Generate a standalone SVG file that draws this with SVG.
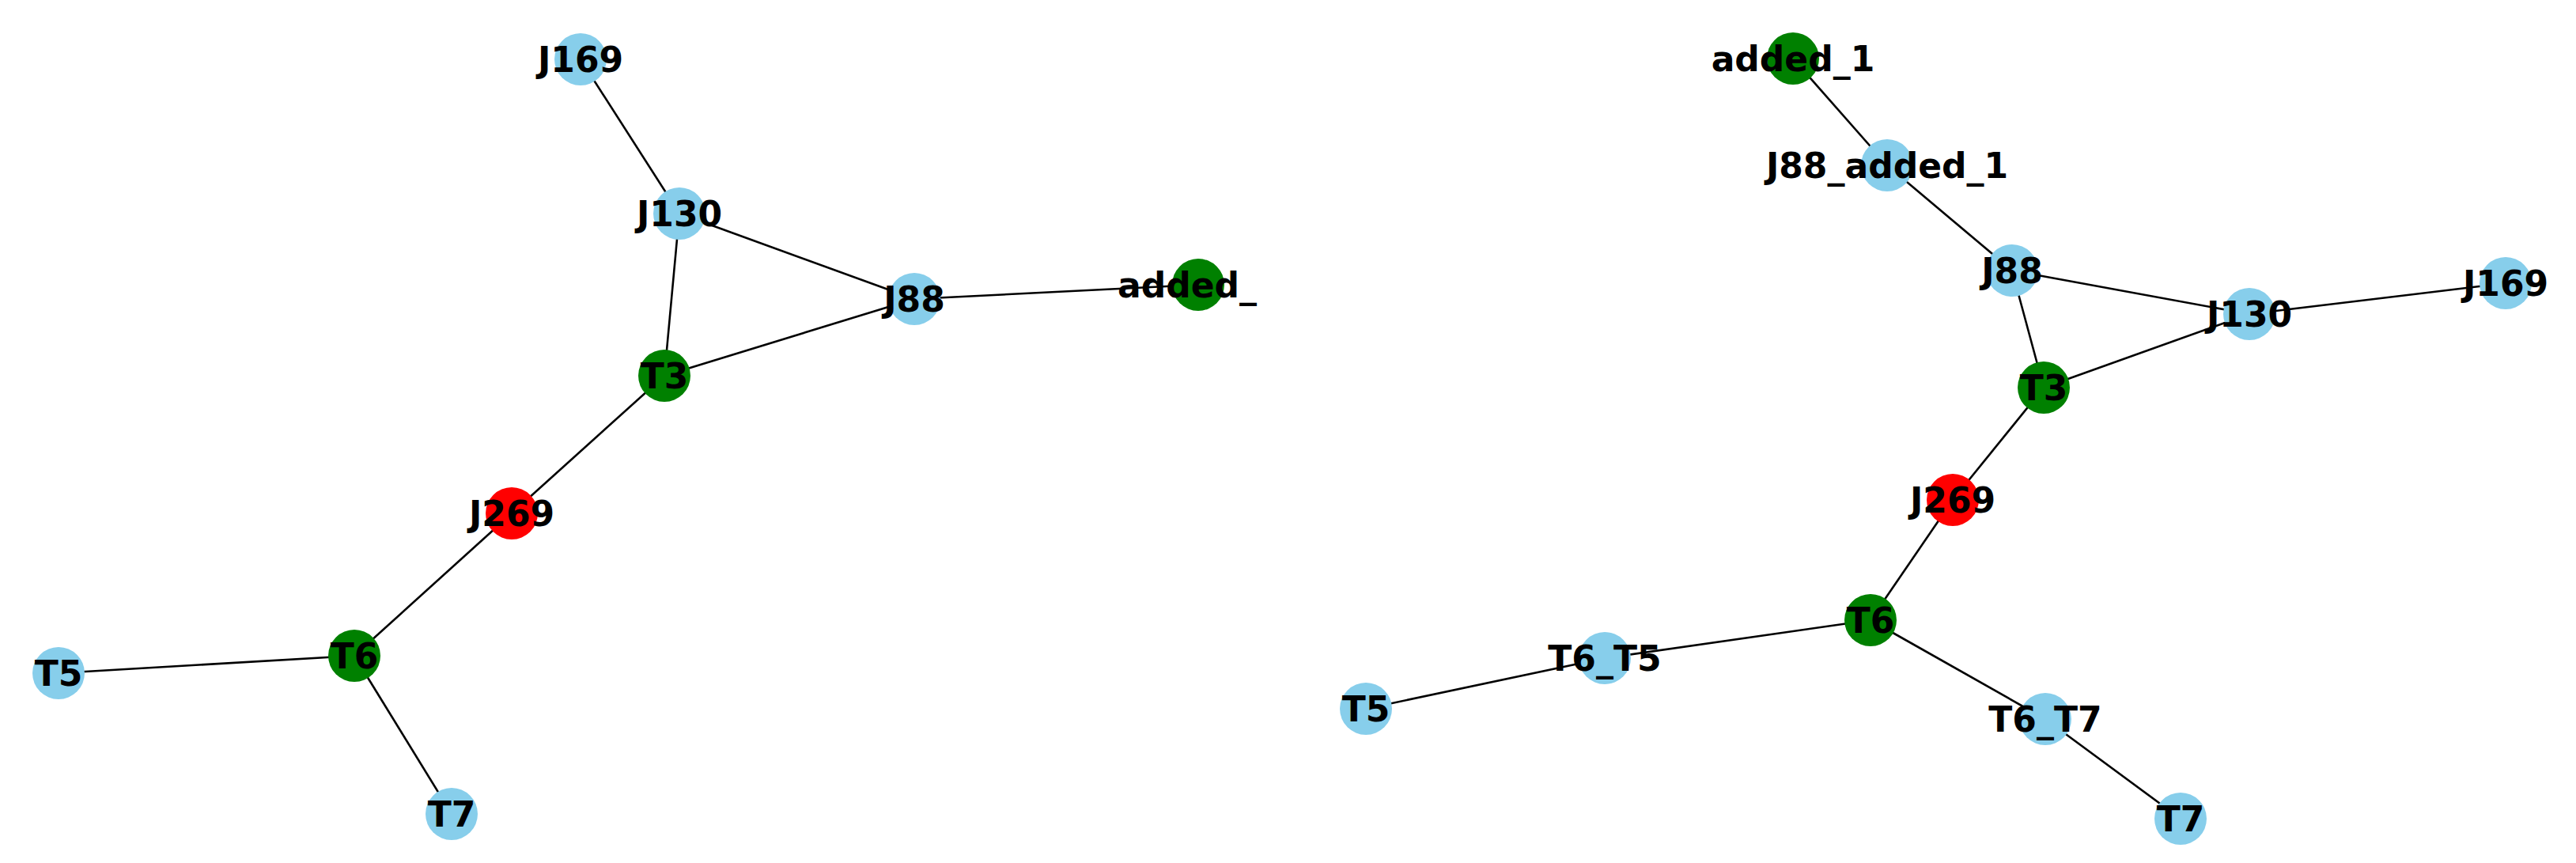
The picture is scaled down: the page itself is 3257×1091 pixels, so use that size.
<svg xmlns="http://www.w3.org/2000/svg" width="3257" height="1091" viewBox="0 0 3257 1091">
<style>
.e{stroke:#000;stroke-width:2.6;fill:none}
.n{stroke:none}
.b{fill:#87CEEB}
.g{fill:#008000}
.r{fill:#FF0000}
.t{font-family:"DejaVu Sans",sans-serif;font-weight:bold;font-size:44px;fill:#000;text-anchor:middle}
</style>
<rect width="3257" height="1091" fill="#fff"/>
<g id="connectors">
<line class="e" x1="734" y1="75" x2="859" y2="270"/>
<line class="e" x1="859" y1="270" x2="1156" y2="378"/>
<line class="e" x1="859" y1="270" x2="840" y2="475"/>
<line class="e" x1="840" y1="475" x2="1156" y2="378"/>
<line class="e" x1="1156" y1="378" x2="1515" y2="360"/>
<line class="e" x1="840" y1="475" x2="647" y2="649"/>
<line class="e" x1="647" y1="649" x2="448" y2="829"/>
<line class="e" x1="448" y1="829" x2="74" y2="851"/>
<line class="e" x1="448" y1="829" x2="571" y2="1029"/>
<line class="e" x1="2267" y1="74" x2="2386" y2="209"/>
<line class="e" x1="2386" y1="209" x2="2544" y2="342"/>
<line class="e" x1="2544" y1="342" x2="2844" y2="397"/>
<line class="e" x1="2544" y1="342" x2="2584" y2="490"/>
<line class="e" x1="2584" y1="490" x2="2844" y2="397"/>
<line class="e" x1="2844" y1="397" x2="3168" y2="358"/>
<line class="e" x1="2584" y1="490" x2="2469" y2="632"/>
<line class="e" x1="2469" y1="632" x2="2365" y2="784"/>
<line class="e" x1="2365" y1="784" x2="2029" y2="832"/>
<line class="e" x1="2029" y1="832" x2="1727" y2="896"/>
<line class="e" x1="2365" y1="784" x2="2586" y2="909"/>
<line class="e" x1="2586" y1="909" x2="2757" y2="1035"/>
</g>
<g id="L_J169"><circle class="n b" cx="734" cy="75" r="33"/></g>
<g id="L_J130"><circle class="n b" cx="859" cy="270" r="33"/></g>
<g id="L_J88"><circle class="n b" cx="1156" cy="378" r="33"/></g>
<g id="L_added"><circle class="n g" cx="1515" cy="360" r="33"/></g>
<g id="L_T3"><circle class="n g" cx="840" cy="475" r="33"/></g>
<g id="L_J269"><circle class="n r" cx="647" cy="649" r="33"/></g>
<g id="L_T6"><circle class="n g" cx="448" cy="829" r="33"/></g>
<g id="L_T5"><circle class="n b" cx="74" cy="851" r="33"/></g>
<g id="L_T7"><circle class="n b" cx="571" cy="1029" r="33"/></g>
<g id="R_added_1"><circle class="n g" cx="2267" cy="74" r="33"/></g>
<g id="R_J88_added_1"><circle class="n b" cx="2386" cy="209" r="33"/></g>
<g id="R_J88"><circle class="n b" cx="2544" cy="342" r="33"/></g>
<g id="R_J130"><circle class="n b" cx="2844" cy="397" r="33"/></g>
<g id="R_J169"><circle class="n b" cx="3168" cy="358" r="33"/></g>
<g id="R_T3"><circle class="n g" cx="2584" cy="490" r="33"/></g>
<g id="R_J269"><circle class="n r" cx="2469" cy="632" r="33"/></g>
<g id="R_T6"><circle class="n g" cx="2365" cy="784" r="33"/></g>
<g id="R_T6_T5"><circle class="n b" cx="2029" cy="832" r="33"/></g>
<g id="R_T5"><circle class="n b" cx="1727" cy="896" r="33"/></g>
<g id="R_T6_T7"><circle class="n b" cx="2586" cy="909" r="33"/></g>
<g id="R_T7"><circle class="n b" cx="2757" cy="1035" r="33"/></g>
<g id="labels">
<text class="t" x="734" y="91">J169</text>
<text class="t" x="859" y="286">J130</text>
<text class="t" x="1156" y="394">J88</text>
<text class="t" x="1413" y="376" style="text-anchor:start">added_</text>
<text class="t" x="840" y="491">T3</text>
<text class="t" x="647" y="665">J269</text>
<text class="t" x="448" y="845">T6</text>
<text class="t" x="74" y="867">T5</text>
<text class="t" x="571" y="1045">T7</text>
<text class="t" x="2267" y="90">added_1</text>
<text class="t" x="2386" y="225">J88_added_1</text>
<text class="t" x="2544" y="358">J88</text>
<text class="t" x="2844" y="413">J130</text>
<text class="t" x="3168" y="374">J169</text>
<text class="t" x="2584" y="506">T3</text>
<text class="t" x="2469" y="648">J269</text>
<text class="t" x="2365" y="800">T6</text>
<text class="t" x="2029" y="848">T6_T5</text>
<text class="t" x="1727" y="912">T5</text>
<text class="t" x="2586" y="925">T6_T7</text>
<text class="t" x="2757" y="1051">T7</text>
</g>
</svg>
